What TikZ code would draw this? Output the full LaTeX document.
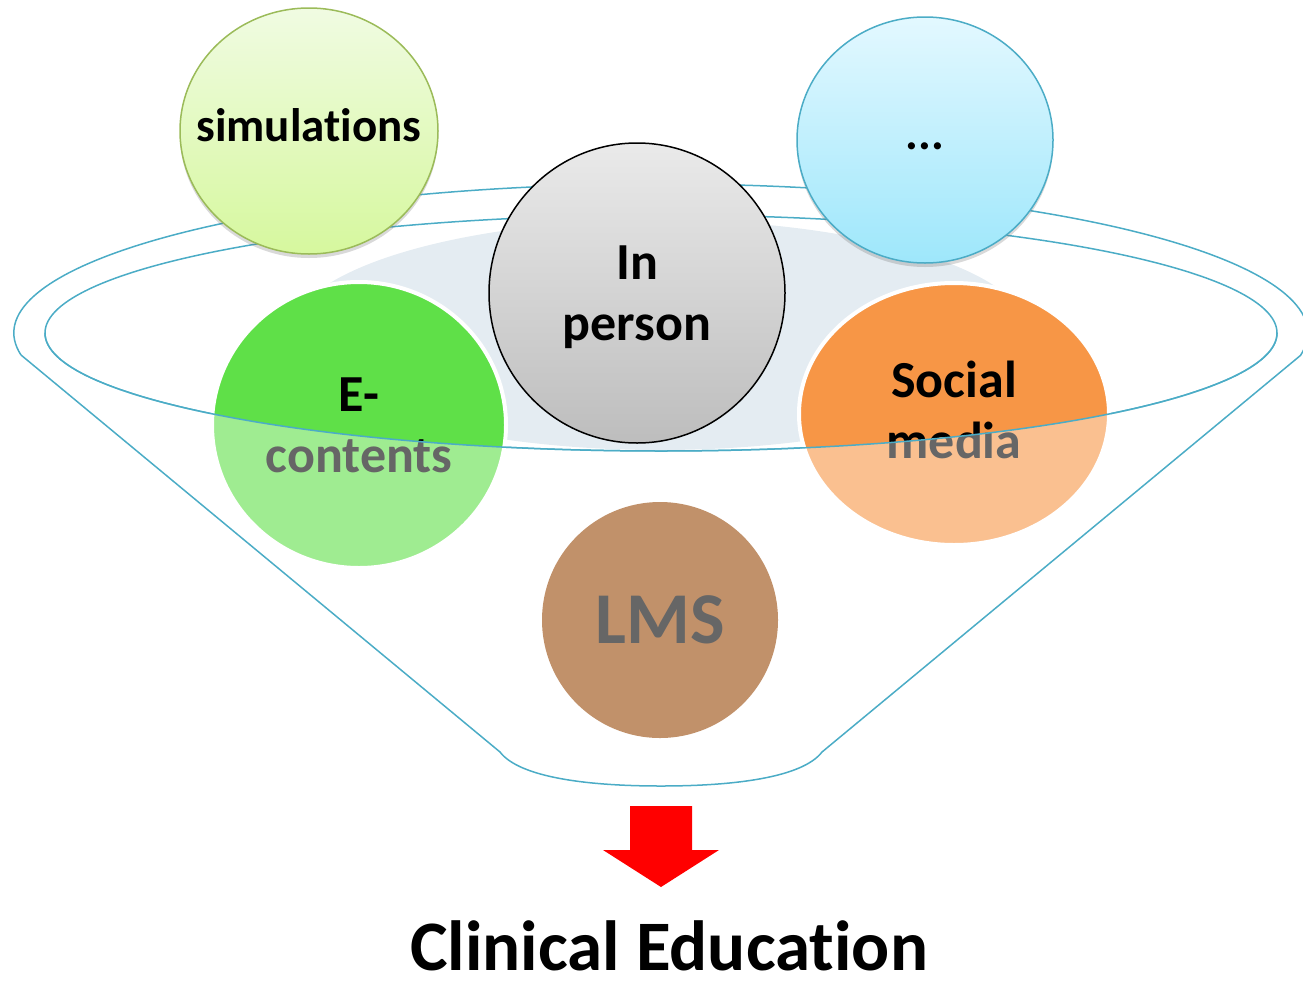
\documentclass[tikz,border=0pt]{standalone}
\usepackage{fontspec}
\setmainfont{Carlito}[RawFeature={-liga}]
\usetikzlibrary{shapes}
\usetikzlibrary{shadows}
\definecolor{funnel-blue}{HTML}{4BACC6}
\definecolor{liquid}{HTML}{E4ECF2}
\definecolor{sim-top}{HTML}{F0FBE2}
\definecolor{sim-bottom}{HTML}{D6F89E}
\definecolor{sim-line}{HTML}{9BBB59}
\definecolor{more-top}{HTML}{E3F8FF}
\definecolor{more-bottom}{HTML}{9EE7FB}
\definecolor{person-top}{HTML}{EAEAEA}
\definecolor{person-bottom}{HTML}{BDBDBD}
\definecolor{econtent}{HTML}{5FE048}
\definecolor{social}{HTML}{F79646}
\definecolor{lms}{HTML}{984807}
\colorlet{rim}{funnel-blue}
\newcommand{\tikzbubblefont}[2]{\fontsize{#1}{#2}\selectfont\bfseries}
\tikzset{
  rimline/.style={draw=rim, line width=1.5pt},
  bubble/.style={line width=1.5pt},
  softshadow/.style={drop shadow={shadow xshift=0pt, shadow yshift=-4pt, opacity=0.25, fill=black!60}},
  bubbletext/.style={align=center, inner sep=0pt, font=\tikzbubblefont{52}{61}},
}

\begin{document}
\begin{tikzpicture}[x=1pt, y=-1pt]
\useasboundingbox (0,0) rectangle (1303,985);
% liquid and rim of the funnel
\fill[liquid] (660,335) ellipse[x radius=370, y radius=115];
\draw[rimline] (21,355) arc[start angle=171.5, end angle=368.5, x radius=647, y radius=149];
\draw[rimline] (661,333) ellipse[x radius=616, y radius=118];
% bubbles
\path[bubble, draw=sim-line, top color=sim-top, bottom color=sim-bottom, softshadow]
  (309,131) ellipse[x radius=129, y radius=123] node[bubbletext, font=\tikzbubblefont{47}{56}, yshift=6pt] (sim) {simulations};
\path[bubble, draw=rim, top color=more-top, bottom color=more-bottom, softshadow]
  (925,140) ellipse[x radius=128, y radius=123] node[bubbletext, font=\tikzbubblefont{48}{56}, yshift=-6pt] (more) {...};
\path[bubble, draw=black, top color=person-top, bottom color=person-bottom]
  (637,293) ellipse[x radius=148, y radius=150] node[bubbletext, yshift=-4pt] (person) {In\\person};
\path[bubble, draw=white, line width=4pt, fill=econtent]
  (359,425) ellipse[x radius=147, y radius=143] node[bubbletext] (econtent) {E-\\contents};
\path[bubble, draw=white, line width=4pt, fill=social]
  (954,414) ellipse[x radius=155, y radius=131] node[bubbletext, yshift=4pt] (social) {Social\\media};
\path[bubble, fill=lms]
  (660,620) ellipse[x radius=118, y radius=118] node[bubbletext, font=\tikzbubblefont{73}{80}] (lms) {LMS};
% front of the funnel
\fill[white, opacity=0.4] (45,333) arc[start angle=180, end angle=0, x radius=616, y radius=118]
  -- (822,752) .. controls (802,778) and (732,786) .. (661,786)
  .. controls (590,786) and (520,778) .. (500,752) -- cycle;
\draw[rimline] (45,333) arc[start angle=180, end angle=0, x radius=616, y radius=118];
\draw[rimline] (21,355) -- (500,752) .. controls (520,778) and (590,786) .. (661,786)
  .. controls (732,786) and (802,778) .. (822,752) -- (1301,355);
% arrow and result
\fill[red] (630,806) -- (692,806) -- (692,850) -- (719,850) -- (661,887) -- (603,850) -- (630,850) -- cycle;
\node[anchor=base, inner sep=0pt, font=\tikzbubblefont{71}{80}] (result) at (669,970) {Clinical Education};
\end{tikzpicture}
\end{document}
